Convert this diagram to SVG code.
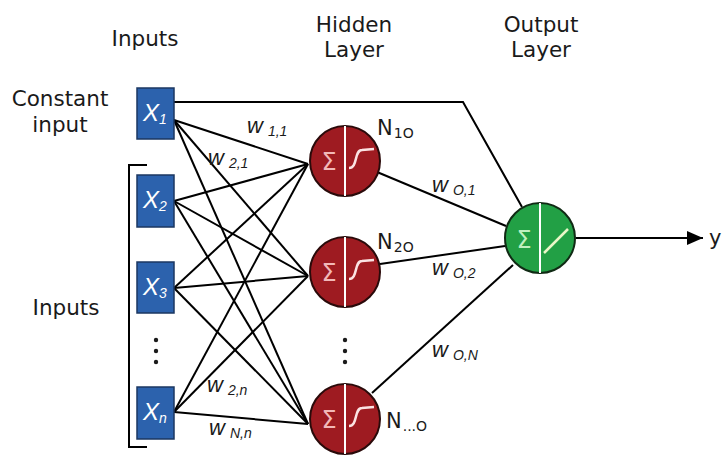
<svg xmlns="http://www.w3.org/2000/svg" width="723" height="455" viewBox="0 0 723 455">
<style>
.lbl{font-family:"DejaVu Sans",Verdana,sans-serif;font-size:21.5px;fill:#1a1a1a;text-anchor:middle}
.w{font-family:"Liberation Sans",Arial,sans-serif;font-style:italic;font-size:22px;fill:#1a1a1a}
.wsub{font-size:14px}
.nl{font-family:"DejaVu Sans",Verdana,sans-serif;font-size:21px;fill:#1a1a1a}
.nsub{font-size:14px}
.box{fill:#2c62ad;stroke:#1b3761;stroke-width:1.5}
.bx{font-family:"Liberation Sans",Arial,sans-serif;font-style:italic;font-size:24px;fill:#ffffff}
.bsub{font-size:14px}
.hid{fill:#9e1b21;stroke:#2a0a0a;stroke-width:2}
.out{fill:#22a045;stroke:#102a14;stroke-width:2}
.div{stroke:#ffffff;stroke-width:2}
.sig{font-family:"DejaVu Sans",sans-serif;font-size:24px;text-anchor:middle}
.conn line,.conn path{stroke:#000;stroke-width:2;fill:none}
.dot{fill:#1a1a1a}
</style>
<defs>
<marker id="arrhead" viewBox="0 0 16 14" refX="16" refY="7" markerWidth="16" markerHeight="14" markerUnits="userSpaceOnUse" orient="auto">
<path d="M0,0 L16,7 L0,14 z" fill="#000"/>
</marker>
</defs>
<rect width="723" height="455" fill="#ffffff"/>

<g id="headers">
<text class="lbl" x="145" y="46">Inputs</text>
<text class="lbl" x="354" y="32">Hidden</text>
<text class="lbl" x="354" y="57">Layer</text>
<text class="lbl" x="541" y="32">Output</text>
<text class="lbl" x="541" y="57">Layer</text>
<text class="lbl" x="60" y="106">Constant</text>
<text class="lbl" x="60" y="132">input</text>
<text class="lbl" x="66" y="315">Inputs</text>
</g>

<g id="connectors" class="conn">
<path d="M174,102 H463 L522,207"/>
<line x1="174" y1="120" x2="308" y2="164"/>
<line x1="174" y1="120" x2="308" y2="276"/>
<line x1="174" y1="120" x2="308" y2="424"/>
<line x1="174" y1="201" x2="308" y2="164"/>
<line x1="174" y1="201" x2="308" y2="276"/>
<line x1="174" y1="201" x2="308" y2="424"/>
<line x1="174" y1="288" x2="308" y2="164"/>
<line x1="174" y1="288" x2="308" y2="276"/>
<line x1="174" y1="288" x2="308" y2="424"/>
<line x1="174" y1="412" x2="308" y2="164"/>
<line x1="174" y1="412" x2="308" y2="276"/>
<line x1="174" y1="412" x2="308" y2="424"/>
<line x1="377" y1="172" x2="506" y2="226"/>
<line x1="380" y1="264" x2="505" y2="246"/>
<line x1="372" y1="393" x2="513" y2="265"/>
<line x1="576" y1="238" x2="703" y2="238" marker-end="url(#arrhead)"/>
<path d="M147,165 H129 V447 H147"/>
</g>

<g id="weights">
<text class="w" x="247" y="133">w<tspan class="wsub" dx="5" dy="3">1,1</tspan></text>
<text class="w" x="208" y="165">w<tspan class="wsub" dx="5" dy="3">2,1</tspan></text>
<text class="w" x="432" y="192">w<tspan class="wsub" dx="5" dy="3">O,1</tspan></text>
<text class="w" x="432" y="275">w<tspan class="wsub" dx="5" dy="3">O,2</tspan></text>
<text class="w" x="432" y="357">w<tspan class="wsub" dx="5" dy="3">O,N</tspan></text>
<text class="w" x="207" y="392">w<tspan class="wsub" dx="5" dy="3">2,n</tspan></text>
<text class="w" x="209" y="435">w<tspan class="wsub" dx="5" dy="3">N,n</tspan></text>
</g>

<g id="x1"><rect class="box" x="137" y="88" width="37" height="51"/><text class="bx" x="143" y="121">X<tspan class="bsub" dy="3">1</tspan></text></g>
<g id="x2"><rect class="box" x="137" y="175" width="37" height="52"/><text class="bx" x="143" y="208">X<tspan class="bsub" dy="3">2</tspan></text></g>
<g id="x3"><rect class="box" x="137" y="262" width="37" height="51"/><text class="bx" x="143" y="295">X<tspan class="bsub" dy="3">3</tspan></text></g>
<g id="xn"><rect class="box" x="137" y="387" width="37" height="52"/><text class="bx" x="143" y="420">X<tspan class="bsub" dy="3">n</tspan></text></g>
<g id="input-dots"><circle class="dot" cx="156" cy="340" r="2.2"/><circle class="dot" cx="156" cy="351" r="2.2"/><circle class="dot" cx="156" cy="362" r="2.2"/></g>

<g id="n1" transform="translate(345,161)">
<circle class="hid" r="35"/><line class="div" x1="0" y1="-35" x2="0" y2="35"/>
<text class="sig" x="-16" y="8.5" fill="#f2b8b8">Σ</text>
<path d="M4,7 C13,7 9,-11 17,-11 L29,-12" stroke="#fbe3e3" stroke-width="2.5" fill="none"/>
</g>
<g id="n2" transform="translate(345,272)">
<circle class="hid" r="35"/><line class="div" x1="0" y1="-35" x2="0" y2="35"/>
<text class="sig" x="-16" y="8.5" fill="#f2b8b8">Σ</text>
<path d="M4,7 C13,7 9,-11 17,-11 L29,-12" stroke="#fbe3e3" stroke-width="2.5" fill="none"/>
</g>
<g id="n3" transform="translate(345,419)">
<circle class="hid" r="35"/><line class="div" x1="0" y1="-35" x2="0" y2="35"/>
<text class="sig" x="-16" y="8.5" fill="#f2b8b8">Σ</text>
<path d="M4,7 C13,7 9,-11 17,-11 L29,-12" stroke="#fbe3e3" stroke-width="2.5" fill="none"/>
</g>
<g id="hidden-dots"><circle class="dot" cx="345" cy="340" r="2.2"/><circle class="dot" cx="345" cy="351" r="2.2"/><circle class="dot" cx="345" cy="362" r="2.2"/></g>

<g id="neuron-labels">
<text class="nl" x="377" y="135">N<tspan class="nsub" dx="1" dy="3">1O</tspan></text>
<text class="nl" x="377" y="249">N<tspan class="nsub" dx="1" dy="3">2O</tspan></text>
<text class="nl" x="386" y="428">N<tspan class="nsub" dx="1" dy="3">...O</tspan></text>
</g>

<g id="out" transform="translate(540,238)">
<circle class="out" r="35"/><line class="div" x1="0" y1="-35" x2="0" y2="35"/>
<text class="sig" x="-16" y="9.5" fill="#bff0bf">Σ</text>
<line x1="4" y1="15" x2="28" y2="-9" stroke="#eaf7c8" stroke-width="2.5"/>
</g>
<g id="y-label"><text class="nl" x="709" y="245">y</text></g>
</svg>
